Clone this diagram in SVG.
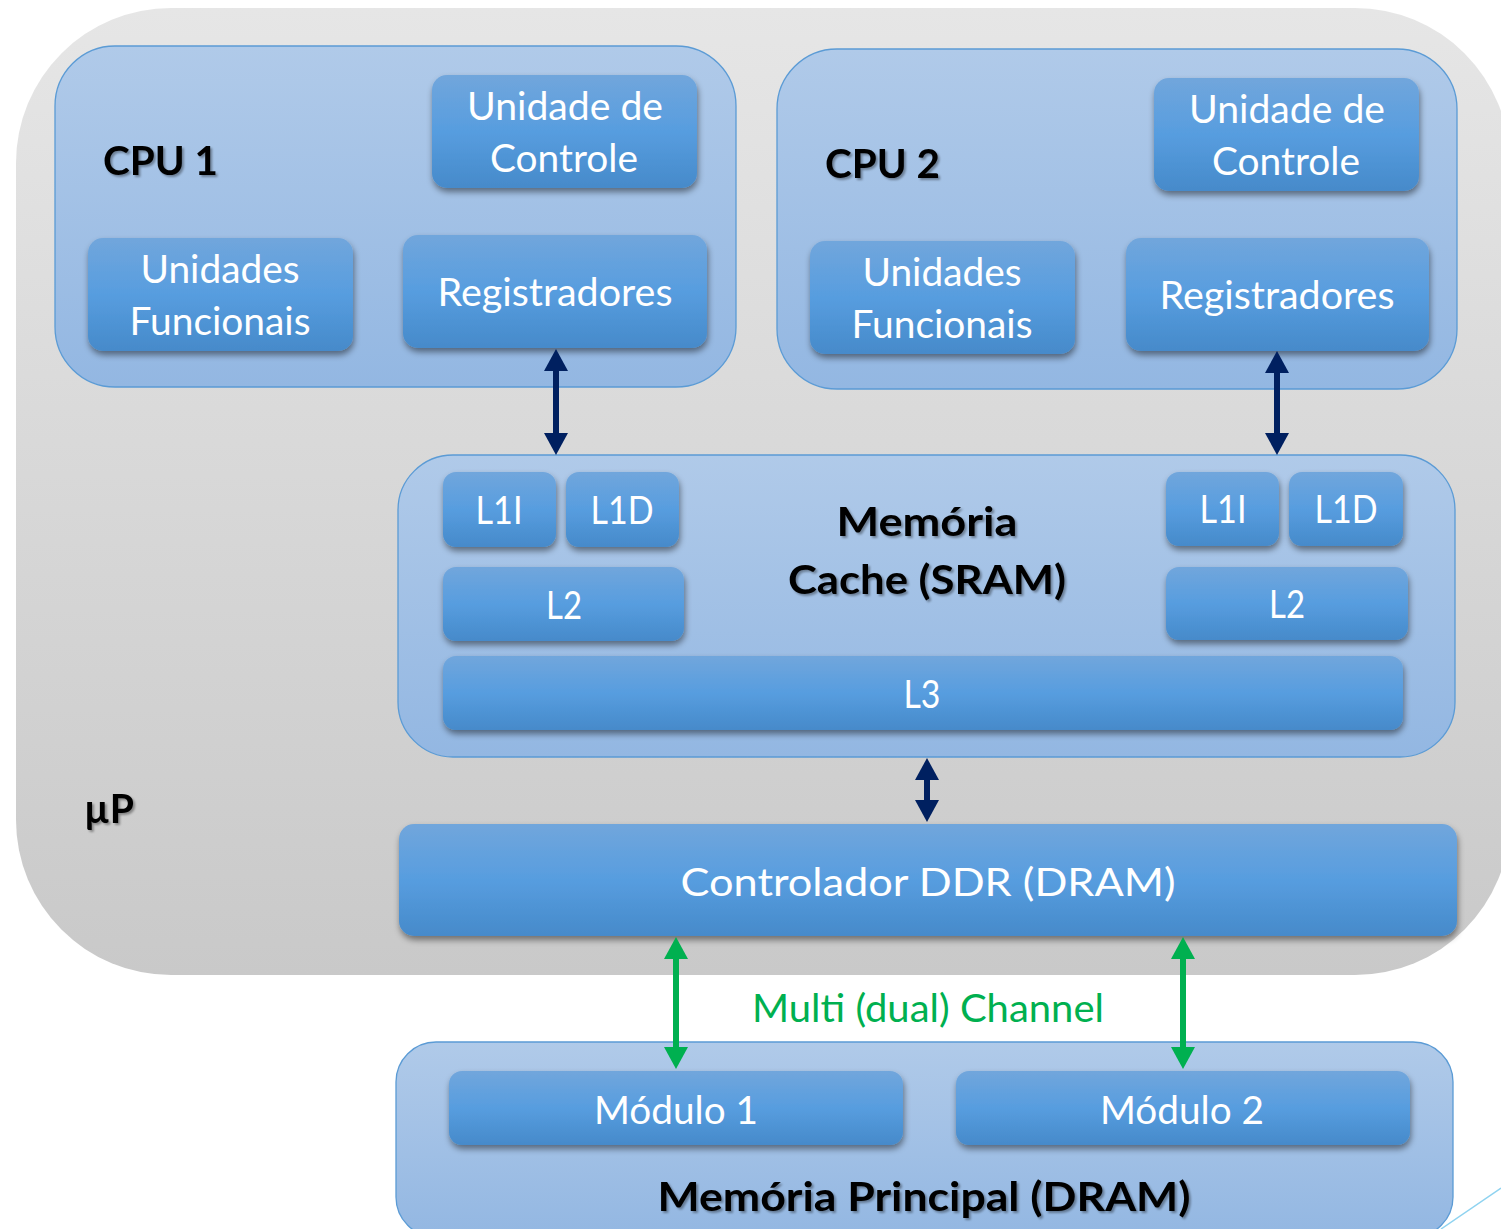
<svg xmlns="http://www.w3.org/2000/svg" width="1501" height="1229" viewBox="0 0 1501 1229">
<style>
.cont{fill:url(#gCont);stroke:#5b9bd5;stroke-width:1.3}
.box{fill:url(#gBox);filter:url(#sh)}
.wt{font-family:Lato,"Open Sans","DejaVu Sans",sans-serif;font-size:38px;fill:#ffffff;text-anchor:middle}
.bt{font-family:Lato,"Open Sans","DejaVu Sans",sans-serif;font-weight:bold;font-size:41px;fill:#000000;filter:url(#tsh)}
.nv{stroke:#002060;stroke-width:6;fill:none;marker-start:url(#aN);marker-end:url(#aN)}
.gr{stroke:#00b050;stroke-width:6;fill:none;marker-start:url(#aG);marker-end:url(#aG)}
</style>
<defs>
<linearGradient id="gGray" x1="0" y1="0" x2="0" y2="1">
<stop offset="0" stop-color="#e6e6e6"/><stop offset="1" stop-color="#c9c9c9"/>
</linearGradient>
<linearGradient id="gCont" x1="0" y1="0" x2="0" y2="1">
<stop offset="0" stop-color="#b0cae9"/><stop offset="1" stop-color="#93b7e2"/>
</linearGradient>
<linearGradient id="gBox" x1="0" y1="0" x2="0" y2="1">
<stop offset="0" stop-color="#71a6dc"/><stop offset="0.5" stop-color="#579ddf"/><stop offset="1" stop-color="#468aca"/>
</linearGradient>
<filter id="sh" x="-10%" y="-20%" width="120%" height="150%">
<feDropShadow dx="1" dy="4" stdDeviation="3" flood-color="#000" flood-opacity="0.45"/>
</filter>
<filter id="tsh" x="-10%" y="-20%" width="120%" height="150%">
<feDropShadow dx="2" dy="2" stdDeviation="1.2" flood-color="#000" flood-opacity="0.35"/>
</filter>
<marker id="aN" viewBox="0 0 22 24" markerWidth="22" markerHeight="24" refX="2" refY="12" orient="auto-start-reverse" markerUnits="userSpaceOnUse">
<path d="M0,0 L22,12 L0,24 z" fill="#002060"/>
</marker>
<marker id="aG" viewBox="0 0 22 24" markerWidth="22" markerHeight="24" refX="2" refY="12" orient="auto-start-reverse" markerUnits="userSpaceOnUse">
<path d="M0,0 L22,12 L0,24 z" fill="#00b050"/>
</marker>
</defs>

<g id="up">
<rect x="16" y="8" width="1494" height="967" rx="155" ry="155" fill="url(#gGray)"/>
<text class="bt" x="84" y="823" font-size="38" textLength="50" lengthAdjust="spacingAndGlyphs">µP</text>
</g>

<g id="cpu1">
<rect class="cont" x="55" y="46" width="681" height="341" rx="60"/>
<text class="bt" x="103" y="175" textLength="115" lengthAdjust="spacingAndGlyphs">CPU 1</text>
<g id="cpu1-uc">
<rect class="box" x="432" y="75" width="265" height="113" rx="15"/>
<text class="wt" x="565" y="120" textLength="196" lengthAdjust="spacingAndGlyphs">Unidade de</text>
<text class="wt" x="564" y="172" textLength="148" lengthAdjust="spacingAndGlyphs">Controle</text>
</g>
<g id="cpu1-uf">
<rect class="box" x="88" y="238" width="265" height="113" rx="15"/>
<text class="wt" x="220" y="283" textLength="159" lengthAdjust="spacingAndGlyphs">Unidades</text>
<text class="wt" x="220" y="335" textLength="181" lengthAdjust="spacingAndGlyphs">Funcionais</text>
</g>
<g id="cpu1-reg">
<rect class="box" x="403" y="235" width="304" height="113" rx="15"/>
<text class="wt" x="555" y="306" textLength="235" lengthAdjust="spacingAndGlyphs">Registradores</text>
</g>
</g>

<g id="cpu2">
<rect class="cont" x="777" y="49" width="680" height="340" rx="60"/>
<text class="bt" x="825" y="178" textLength="115" lengthAdjust="spacingAndGlyphs">CPU 2</text>
<g id="cpu2-uc">
<rect class="box" x="1154" y="78" width="265" height="113" rx="15"/>
<text class="wt" x="1287" y="123" textLength="196" lengthAdjust="spacingAndGlyphs">Unidade de</text>
<text class="wt" x="1286" y="175" textLength="148" lengthAdjust="spacingAndGlyphs">Controle</text>
</g>
<g id="cpu2-uf">
<rect class="box" x="810" y="241" width="265" height="113" rx="15"/>
<text class="wt" x="942" y="286" textLength="159" lengthAdjust="spacingAndGlyphs">Unidades</text>
<text class="wt" x="942" y="338" textLength="181" lengthAdjust="spacingAndGlyphs">Funcionais</text>
</g>
<g id="cpu2-reg">
<rect class="box" x="1126" y="238" width="303" height="113" rx="15"/>
<text class="wt" x="1277" y="309" textLength="235" lengthAdjust="spacingAndGlyphs">Registradores</text>
</g>
</g>

<g id="cache">
<rect class="cont" x="398" y="455" width="1057" height="302" rx="55"/>
<text class="bt" x="927" y="536" text-anchor="middle" textLength="181" lengthAdjust="spacingAndGlyphs">Memória</text>
<text class="bt" x="927" y="594" text-anchor="middle" textLength="278" lengthAdjust="spacingAndGlyphs">Cache (SRAM)</text>
<g id="l1i-1"><rect class="box" x="443" y="472" width="113" height="75" rx="13"/><text class="wt" x="499" y="524" textLength="47" lengthAdjust="spacingAndGlyphs">L1I</text></g>
<g id="l1d-1"><rect class="box" x="566" y="472" width="113" height="75" rx="13"/><text class="wt" x="622" y="524" textLength="63" lengthAdjust="spacingAndGlyphs">L1D</text></g>
<g id="l2-1"><rect class="box" x="443" y="567" width="241" height="74" rx="13"/><text class="wt" x="564" y="619" textLength="36" lengthAdjust="spacingAndGlyphs">L2</text></g>
<g id="l1i-2"><rect class="box" x="1166" y="472" width="113" height="74" rx="13"/><text class="wt" x="1223" y="523" textLength="47" lengthAdjust="spacingAndGlyphs">L1I</text></g>
<g id="l1d-2"><rect class="box" x="1289" y="472" width="114" height="74" rx="13"/><text class="wt" x="1346" y="523" textLength="63" lengthAdjust="spacingAndGlyphs">L1D</text></g>
<g id="l2-2"><rect class="box" x="1166" y="567" width="242" height="73" rx="13"/><text class="wt" x="1287" y="618" textLength="36" lengthAdjust="spacingAndGlyphs">L2</text></g>
<g id="l3"><rect class="box" x="443" y="656" width="960" height="74" rx="13"/><text class="wt" x="922" y="708" textLength="37" lengthAdjust="spacingAndGlyphs">L3</text></g>
</g>

<g id="ddr">
<rect class="box" x="399" y="824" width="1058" height="112" rx="15"/>
<text class="wt" x="928" y="896" font-size="43" textLength="495" lengthAdjust="spacingAndGlyphs">Controlador DDR (DRAM)</text>
</g>

<g id="mem">
<rect class="cont" x="396" y="1042" width="1057" height="195" rx="40"/>
<g id="mod1"><rect class="box" x="449" y="1071" width="454" height="74" rx="13"/><text class="wt" x="676" y="1124" textLength="164" lengthAdjust="spacingAndGlyphs">Módulo 1</text></g>
<g id="mod2"><rect class="box" x="956" y="1071" width="454" height="74" rx="13"/><text class="wt" x="1182" y="1124" textLength="164" lengthAdjust="spacingAndGlyphs">Módulo 2</text></g>
<text class="bt" x="924" y="1211" text-anchor="middle" font-size="42" textLength="533" lengthAdjust="spacingAndGlyphs">Memória Principal (DRAM)</text>
</g>

<g id="connectors">
<line class="nv" x1="556" y1="369" x2="556" y2="435"/>
<line class="nv" x1="1277" y1="371" x2="1277" y2="435"/>
<line class="nv" x1="927" y1="778" x2="927" y2="802"/>
<line class="gr" x1="676" y1="957" x2="676" y2="1049"/>
<line class="gr" x1="1183" y1="957" x2="1183" y2="1049"/>
<text x="928" y="1022" font-family="Lato,'Open Sans','DejaVu Sans',sans-serif" font-size="39" fill="#00b050" text-anchor="middle" textLength="352" lengthAdjust="spacingAndGlyphs">Multi (dual) Channel</text>
</g>

<line x1="1441" y1="1229" x2="1501" y2="1188" stroke="#8fd3f0" stroke-width="1.5"/>
</svg>
